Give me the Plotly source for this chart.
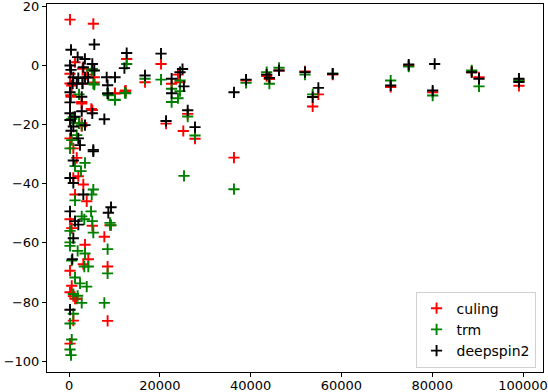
"""Scatter of culing / trm / deepspin2 values."""

import plotly.graph_objects as go

# culing (red)
culing_x = [220, 5350, 1320, 220, 5570, 12700, 5570, 220, 10130, 12330, 440, 2800, 5130, 2800, 220,
            950, 1700, 2050, 950, 3150, 1320, 3900, 220, 9030, 5130, 600, 7780, 3520, 4250, 3150,
            8500, 220, 600, 220, 950, 1320, 1700, 8500, 950, 220,
            3000, 4000, 2900, 600, 400, 2800, 10130, 12500, 4900, 2800,
            20264, 16740, 22600, 24000, 24450, 26140, 21370, 25170, 27750, 36340, 38990, 43540,
            44130, 46260, 51980, 54920, 53670, 58080, 70850, 74820, 80100, 88700, 90300, 99100, 99100]
culing_y = [15.6, 14.2, 1.2, -2.7, -3.9, 2.3, -5.7, -6.0, -9.4, -8.6, -10.5, -12.8, -15.0, -19.5, -24.6,
            -28.0, -31.2, -37.4, -38.0, -40.2, -43.6, -45.9, -52.0, -54.0, -54.2, -55.0, -57.9, -60.6, -65.5, -67.2,
            -68.0, -69.4, -74.5, -76.7, -78.0, -78.9, -78.9, -86.4, -86.3, -94.1,
            -1.0, -3.0, -6.1, -6.7, -10.0, -12.3, -9.3, -8.4, -14.6, -20.5,
            0.6, -5.6, -6.1, -3.0, -5.6, -16.3, -19.6, -22.1, -24.7, -31.1, -5.0, -3.5,
            -4.5, -1.6, -1.9, -9.7, -13.8, -3.0, -7.2, 0.0, -9.0, -2.2, -3.9, -5.0, -6.8]

# trm (green)
trm_x = [5130, 12700, 5570, 8500, 10130, 12330, 2200, 600, 2200, 1700, 600, 220, 3520, 1320, 2640,
         5350, 5000, 1320, 4850, 2800, 3370, 5130, 9030, 9250, 5350, 220, 220, 1900, 3520, 8500,
         3370, 4250, 8500, 1320, 2420, 3900, 950, 1900, 2800, 7780, 950, 220, 600, 220, 440,
         220, 600, 5000, 5350, 8660, 10130, 12500, 950, 2800,
         20264, 16740, 22600, 22600, 24450, 24450, 24000, 26140, 27750, 25330, 36340, 38990,
         43540, 44130, 46260, 51980, 53670, 58080, 70850, 74820, 80100, 88700, 90300, 99100]
trm_y = [-1.1, 0.6, -6.4, -9.4, -11.6, -9.2, -9.7, -18.0, -19.5, -23.5, -25.2, -28.0, -32.9, -34.0, -35.7,
         -41.9, -43.6, -45.6, -49.3, -51.0, -52.0, -52.6, -53.2, -54.0, -56.5, -55.9, -59.8, -62.7, -63.6, -62.1,
         -68.0, -68.0, -70.3, -71.7, -73.7, -74.8, -77.3, -77.9, -80.3, -80.3, -84.0, -87.3, -92.7, -96.1, -98.0,
         -61.0, -66.0, -1.6, -6.1, -10.0, -11.5, -9.3, -17.4, -20.2,
         -4.7, -4.4, -7.8, -12.3, -5.0, -8.6, -11.0, -17.2, -23.6, -37.3, -41.8, -5.8,
         -2.2, -6.1, -0.7, -3.0, -9.7, -2.7, -5.0, -0.3, -10.1, -1.6, -7.0, -5.0]

# deepspin2 (black)
deepspin2_x = [5570, 440, 1900, 3500, 5130, 220, 3150, 440, 5570, 950, 2050, 3520, 8300, 10130, 12700,
               12200, 800, 1700, 3000, 8500, 8500, 220, 2800, 2800, 5130, 220, 1320, 220, 7780, 3520,
               950, 2050, 2420, 5350, 5350, 950, 220, 950, 3150, 220, 9250, 8660, 1320, 2050, 950,
               730, 220, 220, 440, 4200,
               20264, 16740, 22600, 22600, 24450, 25000, 25300, 26140, 21370, 27750, 36340, 38990,
               43540, 44130, 46260, 51980, 54920, 53670, 58080, 70850, 74820, 80540, 80100, 88700,
               90300, 99100, 99100]
deepspin2_y = [7.2, 5.4, 2.9, 2.3, 0.6, 0.1, -0.5, -1.4, -1.6, -3.9, -4.2, -3.9, -3.9, -3.9, 4.3,
               -0.8, -6.0, -6.0, -6.0, -6.6, -9.4, -12.4, -10.5, -15.4, -16.1, -16.1, -17.3, -18.4, -18.1, -20.1,
               -20.6, -24.6, -26.9, -28.5, -29.0, -32.1, -38.0, -39.7, -43.6, -49.3, -47.9, -49.8, -52.6, -53.8, -58.4,
               -65.5, -82.6, -9.0, -22.0, -4.0,
               4.1, -3.3, -4.4, -9.3, -2.2, -1.1, -7.0, -15.1, -18.7, -20.8, -9.0, -4.7,
               -3.0, -4.1, -1.6, -2.2, -7.5, -10.6, -2.7, -6.7, 0.4, 0.6, -8.4, -2.2,
               -4.4, -4.4, -5.5]

series = [
    ('culing', culing_x, culing_y, 'red'),
    ('trm', trm_x, trm_y, 'green'),
    ('deepspin2', deepspin2_x, deepspin2_y, 'black'),
]

fig = go.Figure()
for name, xs, ys, color in series:
    fig.add_trace(
        go.Scatter(
            x=xs,
            y=ys,
            name=name,
            mode='markers',
            marker=dict(symbol='cross-thin', size=8, line=dict(color=color, width=1.9)),
        )
    )

axis_style = dict(
    showgrid=False,
    zeroline=False,
    showline=True,
    mirror=True,
    linecolor='black',
    linewidth=1,
    ticks='outside',
    ticklen=4,
    tickcolor='black',
    automargin=False,
    ticklabeloverflow='allow',
    tickfont=dict(size=13, color='black'),
)

fig.update_layout(
    width=548,
    height=392,
    margin=dict(l=47, r=5, t=4, b=20),
    plot_bgcolor='white',
    paper_bgcolor='white',
    font=dict(family='DejaVu Sans', size=13, color='black'),
    showlegend=True,
    legend=dict(
        x=0.985,
        y=0.012,
        xanchor='right',
        yanchor='bottom',
        bordercolor='#d0d0d0',
        borderwidth=1,
        bgcolor='rgba(255,255,255,0.8)',
        tracegroupgap=0,
        font=dict(size=14),
    ),
)
fig.update_xaxes(range=[-4850, 104400], tickvals=[0, 20000, 40000, 60000, 80000, 100000],
                 tickformat='d', ticklabelstandoff=-3, **axis_style)
fig.update_yaxes(range=[-103.7, 20.9], tickvals=[-100, -80, -60, -40, -20, 0, 20], **axis_style)

# drop the default page margin so the figure sits at the window's corner
fig.write_html(
    'out.html',
    config={'displayModeBar': False},
    post_script="document.body.style.margin='0';",
)
